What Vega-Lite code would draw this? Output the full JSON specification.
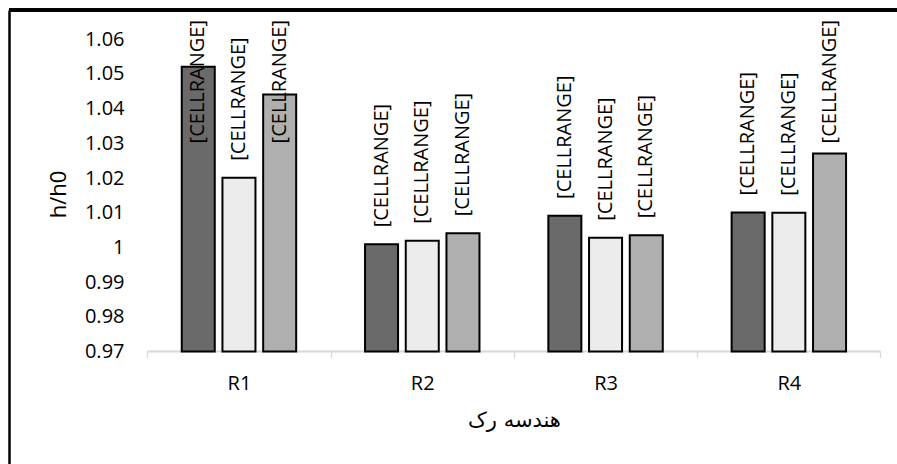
{
  "$schema": "https://vega.github.io/schema/vega-lite/v6.json",
  "width": 888,
  "height": 454,
  "autosize": {"type": "none"},
  "padding": {"left": 9, "top": 10, "right": 0, "bottom": 0},
  "background": "white",
  "config": {"view": {"stroke": null}, "font": "Open Sans"},
  "data": {
    "values": [
      {"geo": "R1", "series": "s1", "v": 1.0521, "label": "[CELLRANGE]"},
      {"geo": "R1", "series": "s2", "v": 1.0201, "label": "[CELLRANGE]"},
      {"geo": "R1", "series": "s3", "v": 1.0441, "label": "[CELLRANGE]"},
      {"geo": "R2", "series": "s1", "v": 1.0009, "label": "[CELLRANGE]"},
      {"geo": "R2", "series": "s2", "v": 1.0019, "label": "[CELLRANGE]"},
      {"geo": "R2", "series": "s3", "v": 1.0041, "label": "[CELLRANGE]"},
      {"geo": "R3", "series": "s1", "v": 1.0091, "label": "[CELLRANGE]"},
      {"geo": "R3", "series": "s2", "v": 1.0028, "label": "[CELLRANGE]"},
      {"geo": "R3", "series": "s3", "v": 1.0035, "label": "[CELLRANGE]"},
      {"geo": "R4", "series": "s1", "v": 1.0101, "label": "[CELLRANGE]"},
      {"geo": "R4", "series": "s2", "v": 1.0100, "label": "[CELLRANGE]"},
      {"geo": "R4", "series": "s3", "v": 1.0271, "label": "[CELLRANGE]"}
    ]
  },
  "layer": [
    {
      "mark": {"type": "bar", "fill": "transparent", "stroke": "#d9d9d9", "strokeWidth": 1.3, "width": {"band": 1}},
      "encoding": {
        "x": {
          "field": "geo",
          "type": "nominal",
          "sort": ["R1", "R2", "R3", "R4"],
          "scale": {"paddingInner": 0, "paddingOuter": 0.4223, "align": 0.8934},
          "axis": {
            "orient": "bottom",
            "offset": -112.5,
            "domain": false,
            "labelAngle": 0,
            "labelFont": "Open Sans",
            "labelFontSize": 20,
            "labelColor": "#000000",
            "labelPadding": 16,
            "tickBand": "extent",
            "ticks": true,
            "tickColor": "#d9d9d9",
            "tickSize": 6,
            "tickWidth": 1.3,
            "title": "هندسه رک",
            "titleFont": "DejaVu Sans",
            "titleFontSize": 21,
            "titleFontWeight": "normal",
            "titleColor": "#000000",
            "titleX": 505,
            "titleY": 68.5,
            "titleBaseline": "middle",
            "titleAlign": "center"
          }
        },
        "y": {
          "datum": 0.97,
          "type": "quantitative",
          "scale": {"domain": [0.93757, 1.06845], "nice": false, "zero": false},
          "axis": {
            "orient": "left",
            "values": [0.97, 0.98, 0.99, 1, 1.01, 1.02, 1.03, 1.04, 1.05, 1.06],
            "format": ".2~f",
            "grid": false,
            "domain": true,
            "domainColor": "#000000",
            "domainWidth": 2.5,
            "ticks": false,
            "labelPadding": -115,
            "labelAlign": "right",
            "labelBaseline": "middle",
            "labelFont": "Open Sans",
            "labelFontSize": 20,
            "labelColor": "#000000",
            "labelOverlap": false,
            "labelFlush": false,
            "title": "h/h0",
            "titleFont": "Open Sans",
            "titleFontSize": 22,
            "titleFontWeight": "normal",
            "titleColor": "#000000",
            "titleX": 49,
            "titleY": 184,
            "titleAngle": -90,
            "titleAlign": "center",
            "titleBaseline": "middle"
          }
        },
        "y2": {"datum": 0.97}
      }
    },
    {
      "mark": {"type": "bar", "stroke": "#000000", "strokeWidth": 2},
      "encoding": {
        "x": {"field": "geo", "type": "nominal", "sort": ["R1", "R2", "R3", "R4"]},
        "xOffset": {"field": "series", "type": "nominal", "scale": {"paddingInner": 0.189, "paddingOuter": 0.846}},
        "y": {"field": "v", "type": "quantitative"},
        "y2": {"datum": 0.97},
        "color": {
          "field": "series",
          "type": "nominal",
          "scale": {"domain": ["s1", "s2", "s3"], "range": ["#6a6a6a", "#ececec", "#afafaf"]},
          "legend": null
        }
      }
    },
    {
      "transform": [{"calculate": "min(datum.v + 0.0049, 1.03)", "as": "labelY"}],
      "mark": {"type": "text", "angle": 270, "align": "left", "baseline": "middle", "font": "Open Sans", "fontSize": 20, "color": "#000000"},
      "encoding": {
        "x": {"field": "geo", "type": "nominal", "sort": ["R1", "R2", "R3", "R4"]},
        "xOffset": {"field": "series", "type": "nominal"},
        "y": {"field": "labelY", "type": "quantitative"},
        "text": {"field": "label"}
      }
    },
    {
      "mark": {"type": "rule", "color": "#000000", "strokeWidth": 2.5},
      "encoding": {
        "y": {"datum": 1.06845, "type": "quantitative"}
      }
    }
  ]
}
